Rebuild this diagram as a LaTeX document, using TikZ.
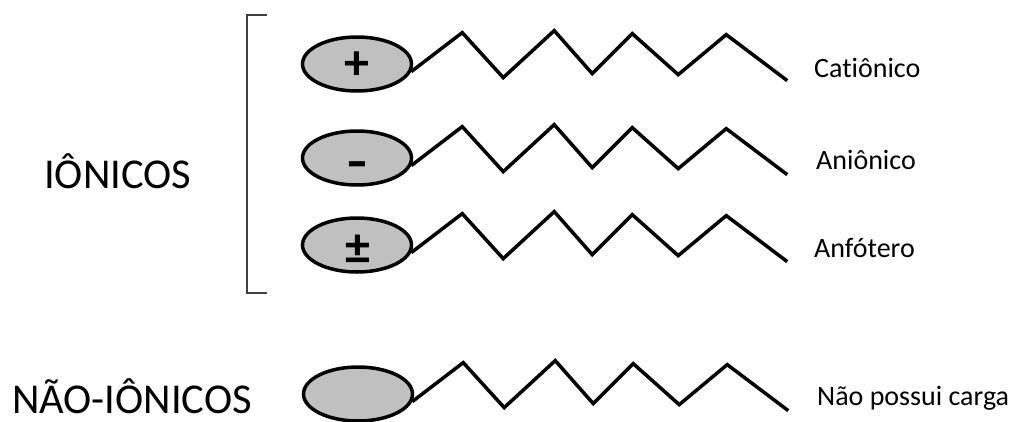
\documentclass[tikz,border=0pt]{standalone}
\usepackage{fontspec}
\setmainfont{Carlito}[Ligatures=NoCommon]
\usetikzlibrary{shapes.geometric}
\definecolor{headgray}{HTML}{C0C0C0}
\definecolor{bracketgray}{HTML}{404040}
\tikzset{
  head/.style={ellipse, draw=black, fill=headgray, line width=3.5pt,
    minimum width=109pt, minimum height=54pt, inner sep=0pt},
  charge/.style={font=\bfseries\fontsize{50}{50}\selectfont, inner sep=0pt},
  tail/.style={draw=black, line width=3.5pt, line join=miter},
  kind/.style={anchor=base west, inner sep=0pt, font=\fontsize{28}{30}\selectfont},
  group/.style={anchor=base west, inner sep=0pt, font=\fontsize{42.5}{44}\selectfont},
  bracketline/.style={draw=bracketgray, line width=1.6pt}
}
\begin{document}
\begin{tikzpicture}[x=1pt,y=-1pt]
\useasboundingbox (0,0) rectangle (1020,421);

% polar heads
\node[head] (e1) at (357,64) {};
\node[head] (e2) at (357,158) {};
\node[head] (e3) at (357,245) {};
\node[head] (e4) at (358,394) {};

% charges on the heads
\node[charge] (c1) at (357,66) {+};
\node[charge, xscale=1.3] (c2) at (357,170) {-};
\node[charge] (c3) at (358,250) {±};

% hydrocarbon tails
\foreach \i in {1,2,3,4}{
  \draw[tail] (e\i.-8) -- ++(51,-39) -- ++(41,45) -- ++(51,-47) -- ++(38,43)
    -- ++(40,-40) -- ++(46,41) -- ++(48,-40) -- ++(61,46) coordinate (t\i);
}

% surfactant classes
\node[kind] (k1) at (814,77) {Catiônico};
\node[kind] (k2) at (816,169) {Aniônico};
\node[kind] (k3) at (814,257) {Anfótero};
\node[kind] (k4) at (817,405) {Não possui carga};

% group bracket and titles
\coordinate (bt) at (267,15);
\coordinate (bb) at (267,293);
\draw[bracketline] (bt) -- (bt -| 247,0) -- (bb -| 247,0) -- (bb);
\node[group] (g1) at (44,188) {IÔNICOS};
\node[group] (g2) at (12,413) {NÃO-IÔNICOS};
\end{tikzpicture}
\end{document}
